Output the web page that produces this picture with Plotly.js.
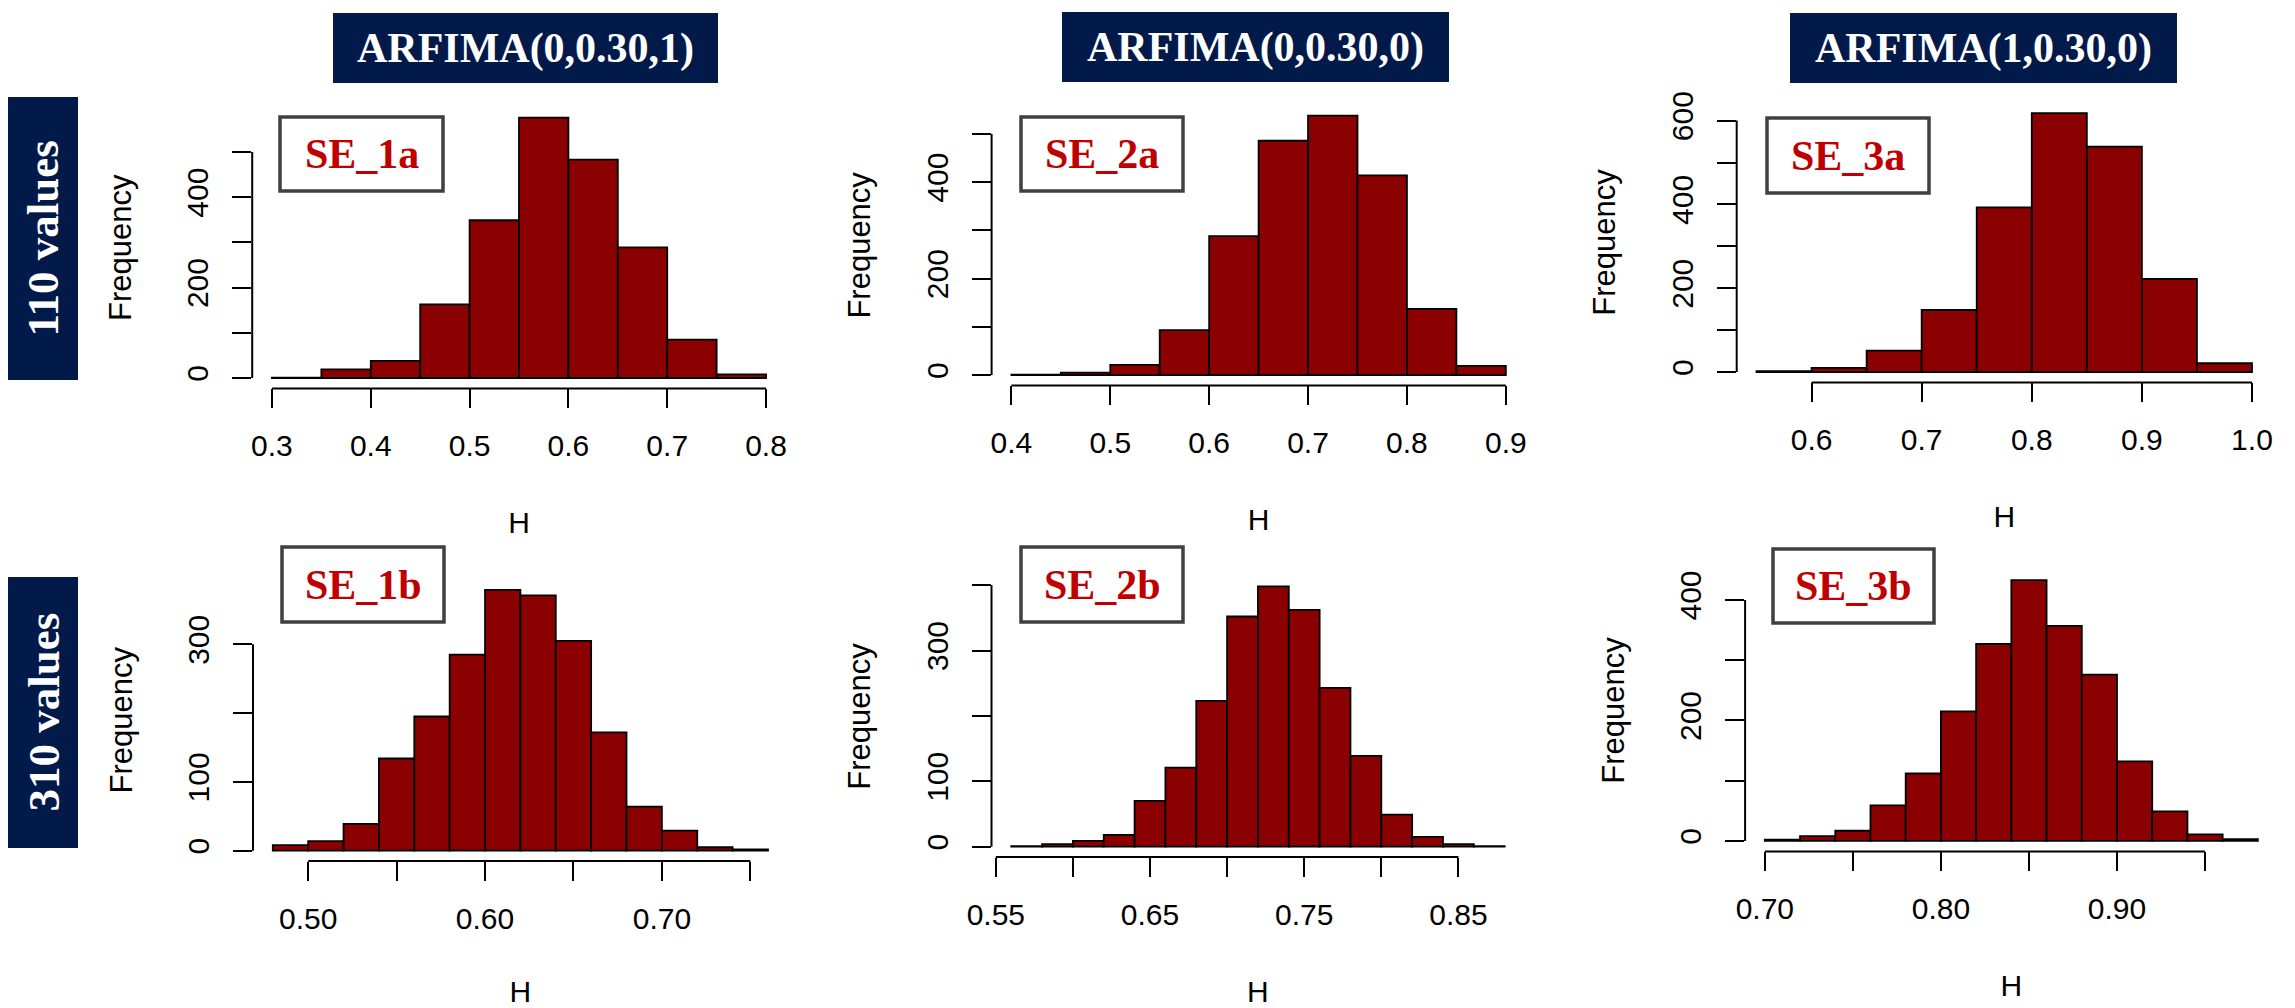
<!DOCTYPE html>
<html><head><meta charset="utf-8">
<script src="https://cdn.plot.ly/plotly-3.0.1.min.js"></script>
<style>html,body{margin:0;padding:0;background:#fff;} #chart{width:2295px;height:1008px;}</style>
</head><body><div id="chart"></div>
<script>
// ---------------- data ----------------
const modelTitles = ['ARFIMA(0,0.30,1)', 'ARFIMA(0,0.30,0)', 'ARFIMA(1,0.30,0)'];
const rowLabels = ['110 values', '310 values'];
const panelNames = ['SE_1a', 'SE_2a', 'SE_3a', 'SE_1b', 'SE_2b', 'SE_3b'];
const xTitle = 'H';
const yTitle = 'Frequency';

const breaks_1a = [0.30, 0.35, 0.40, 0.45, 0.50, 0.55, 0.60, 0.65, 0.70, 0.75, 0.80];
const counts_1a = [1, 19, 38, 163, 349, 576, 483, 289, 85, 8];
const breaks_2a = [0.40, 0.45, 0.50, 0.55, 0.60, 0.65, 0.70, 0.75, 0.80, 0.85, 0.90];
const counts_2a = [1, 5, 21, 93, 288, 486, 538, 414, 137, 19];
const breaks_3a = [0.55, 0.60, 0.65, 0.70, 0.75, 0.80, 0.85, 0.90, 0.95, 1.00];
const counts_3a = [2, 10, 51, 148, 393, 618, 538, 222, 21];
const breaks_1b = [0.48, 0.50, 0.52, 0.54, 0.56, 0.58, 0.60, 0.62, 0.64, 0.66, 0.68, 0.70, 0.72, 0.74, 0.76];
const counts_1b = [8, 14, 39, 134, 195, 285, 379, 371, 305, 172, 64, 29, 5, 2];
const breaks_2b = [0.56, 0.58, 0.60, 0.62, 0.64, 0.66, 0.68, 0.70, 0.72, 0.74, 0.76, 0.78, 0.80, 0.82, 0.84, 0.86, 0.88];
const counts_2b = [1, 4, 9, 18, 70, 121, 223, 352, 398, 362, 243, 139, 49, 15, 4, 1];
const breaks_3b = [0.70, 0.72, 0.74, 0.76, 0.78, 0.80, 0.82, 0.84, 0.86, 0.88, 0.90, 0.92, 0.94, 0.96, 0.98];
const counts_3b = [2, 8, 17, 59, 112, 215, 327, 433, 357, 276, 132, 49, 11, 3];

const xTicks_1a = [0.3, 0.4, 0.5, 0.6, 0.7, 0.8];
const xTickText_1a = ['0.3', '0.4', '0.5', '0.6', '0.7', '0.8'];
const yTicks_1a = [0, 100, 200, 300, 400, 500];
const yTickText_1a = ['0', '', '200', '', '400', ''];
const xTicks_2a = [0.4, 0.5, 0.6, 0.7, 0.8, 0.9];
const xTickText_2a = ['0.4', '0.5', '0.6', '0.7', '0.8', '0.9'];
const yTicks_2a = [0, 100, 200, 300, 400, 500];
const yTickText_2a = ['0', '', '200', '', '400', ''];
const xTicks_3a = [0.6, 0.7, 0.8, 0.9, 1.0];
const xTickText_3a = ['0.6', '0.7', '0.8', '0.9', '1.0'];
const yTicks_3a = [0, 100, 200, 300, 400, 500, 600];
const yTickText_3a = ['0', '', '200', '', '400', '', '600'];
const xTicks_1b = [0.50, 0.55, 0.60, 0.65, 0.70, 0.75];
const xTickText_1b = ['0.50', '', '0.60', '', '0.70', ''];
const yTicks_1b = [0, 100, 200, 300];
const yTickText_1b = ['0', '100', '', '300'];
const xTicks_2b = [0.55, 0.60, 0.65, 0.70, 0.75, 0.80, 0.85];
const xTickText_2b = ['0.55', '', '0.65', '', '0.75', '', '0.85'];
const yTicks_2b = [0, 100, 200, 300, 400];
const yTickText_2b = ['0', '100', '', '300', ''];
const xTicks_3b = [0.70, 0.75, 0.80, 0.85, 0.90, 0.95];
const xTickText_3b = ['0.70', '', '0.80', '', '0.90', ''];
const yTicks_3b = [0, 100, 200, 300, 400];
const yTickText_3b = ['0', '', '200', '', '400'];

// ---------------- layout constants (pixels) ----------------
const W = 2295, H = 1008;
const plotRegionPx = [ // left, right, top, bottom
  [252.2, 785.8, 107.2, 388.4],
  [991.6, 1525.6, 105.3, 385.4],
  [1736.7, 2271.8, 102.7, 382.4],
  [253.0, 787.8, 579.5, 861.1],
  [991.5, 1524.4, 576.0, 857.1],
  [1745.1, 2277.6, 569.7, 851.4]
];
const labelBoxPx = [[280, 443, 117, 191], [1021, 1183, 117, 191], [1767, 1929, 118, 193],
                    [282, 444, 547, 622], [1021, 1183, 547, 622], [1773, 1934, 549, 623]];
const titleBoxPx = [[333, 718, 13, 83], [1062, 1449, 12, 82], [1790, 2177, 13, 83]];
const rowBoxPx = [[8, 78, 97, 380], [8, 78, 577, 848]];

const NAVY = '#021a4a';
const BAR = '#8b0000';
const SANS = 'Liberation Sans, Arial, sans-serif';
const SERIF = 'Liberation Serif, Times New Roman, serif';

const panels = [
  {breaks: breaks_1a, counts: counts_1a, xt: xTicks_1a, xtt: xTickText_1a, yt: yTicks_1a, ytt: yTickText_1a},
  {breaks: breaks_2a, counts: counts_2a, xt: xTicks_2a, xtt: xTickText_2a, yt: yTicks_2a, ytt: yTickText_2a},
  {breaks: breaks_3a, counts: counts_3a, xt: xTicks_3a, xtt: xTickText_3a, yt: yTicks_3a, ytt: yTickText_3a},
  {breaks: breaks_1b, counts: counts_1b, xt: xTicks_1b, xtt: xTickText_1b, yt: yTicks_1b, ytt: yTickText_1b},
  {breaks: breaks_2b, counts: counts_2b, xt: xTicks_2b, xtt: xTickText_2b, yt: yTicks_2b, ytt: yTickText_2b},
  {breaks: breaks_3b, counts: counts_3b, xt: xTicks_3b, xtt: xTickText_3b, yt: yTicks_3b, ytt: yTickText_3b}
];

const px2x = p => p / W;
const px2y = p => 1 - p / H;

const traces = [];
const layout = {
  width: W, height: H,
  margin: {l: 0, r: 0, t: 0, b: 0},
  paper_bgcolor: '#ffffff', plot_bgcolor: 'rgba(0,0,0,0)',
  showlegend: false,
  bargap: 0,
  shapes: [], annotations: []
};

panels.forEach((p, i) => {
  const k = i + 1;
  const xid = k === 1 ? 'x' : 'x' + k;
  const yid = k === 1 ? 'y' : 'y' + k;
  const xa = k === 1 ? 'xaxis' : 'xaxis' + k;
  const ya = k === 1 ? 'yaxis' : 'yaxis' + k;
  const mids = p.breaks.slice(0, -1).map((b, j) => (b + p.breaks[j + 1]) / 2);
  const widths = p.breaks.slice(0, -1).map((b, j) => p.breaks[j + 1] - b);
  traces.push({
    type: 'bar', x: mids, y: p.counts, width: widths,
    xaxis: xid, yaxis: yid,
    marker: {color: BAR, line: {color: '#000000', width: 1.8}},
    hovertemplate: 'H=%{x}<br>Frequency=%{y}<extra></extra>'
  });
  // R-style ranges (4% padding)
  const b0 = p.breaks[0], bN = p.breaks[p.breaks.length - 1];
  const span = bN - b0;
  const xr = [b0 - 0.04 * span, bN + 0.04 * span];
  let [L, R, T, B] = plotRegionPx[i];
  if (R > W) { xr[1] = xr[0] + (W - L) * (xr[1] - xr[0]) / (R - L); R = W; }
  const maxC = Math.max(...p.counts);
  const yr = [-0.04 * maxC, 1.04 * maxC];
  const tickfont = {family: SANS, size: 30, color: '#000'};
  layout[xa] = {
    domain: [px2x(L), px2x(R)], range: xr, anchor: yid,
    showgrid: false, zeroline: false, showline: false,
    ticks: 'outside', ticklen: 19, tickwidth: 2, tickcolor: '#000',
    tickmode: 'array', tickvals: p.xt, ticktext: p.xtt, tickfont: tickfont,
    ticklabelstandoff: 12, ticklabeloverflow: 'allow',
    title: {text: xTitle, font: {family: SANS, size: 30, color: '#000'}, standoff: 50},
    fixedrange: true
  };
  layout[ya] = {
    domain: [px2y(B), px2y(T)], range: yr, anchor: xid,
    showgrid: false, zeroline: false, showline: false,
    ticks: 'outside', ticklen: 19, tickwidth: 2, tickcolor: '#000',
    tickmode: 'array', tickvals: p.yt, ticktext: p.ytt, tickfont: tickfont,
    tickangle: -90, ticklabelstandoff: 12, ticklabeloverflow: 'allow',
    title: {text: yTitle, font: {family: SANS, size: 31, color: '#000'}, standoff: 40},
    fixedrange: true
  };
  // R-style axis lines spanning the tick range only
  layout.shapes.push({type: 'line', xref: xid + ' domain', yref: yid,
    x0: 0, x1: 0, y0: p.yt[0], y1: p.yt[p.yt.length - 1], line: {color: '#000', width: 2}});
  layout.shapes.push({type: 'line', xref: xid, yref: yid + ' domain',
    x0: p.xt[0], x1: p.xt[p.xt.length - 1], y0: 0, y1: 0, line: {color: '#000', width: 2}});
  // SE label box
  const lb = labelBoxPx[i];
  layout.shapes.push({type: 'rect', xref: 'paper', yref: 'paper', layer: 'above',
    x0: px2x(lb[0]), x1: px2x(lb[1]), y0: px2y(lb[3]), y1: px2y(lb[2]),
    fillcolor: '#ffffff', line: {color: '#404040', width: 3.5}});
  layout.annotations.push({xref: 'paper', yref: 'paper', showarrow: false,
    x: px2x((lb[0] + lb[1]) / 2), y: px2y((lb[2] + lb[3]) / 2), xanchor: 'center', yanchor: 'middle',
    text: '<b>' + panelNames[i] + '</b>', font: {family: SERIF, size: 42, color: '#c00000'}});
});

titleBoxPx.forEach((b, j) => {
  layout.shapes.push({type: 'rect', xref: 'paper', yref: 'paper', layer: 'above',
    x0: px2x(b[0]), x1: px2x(b[1]), y0: px2y(b[3]), y1: px2y(b[2]),
    fillcolor: NAVY, line: {width: 0}});
  layout.annotations.push({xref: 'paper', yref: 'paper', showarrow: false,
    x: px2x((b[0] + b[1]) / 2), y: px2y((b[2] + b[3]) / 2), xanchor: 'center', yanchor: 'middle',
    text: '<b>' + modelTitles[j] + '</b>', font: {family: SERIF, size: 42, color: '#ffffff'}});
});
rowBoxPx.forEach((b, j) => {
  layout.shapes.push({type: 'rect', xref: 'paper', yref: 'paper', layer: 'above',
    x0: px2x(b[0]), x1: px2x(b[1]), y0: px2y(b[3]), y1: px2y(b[2]),
    fillcolor: NAVY, line: {width: 0}});
  layout.annotations.push({xref: 'paper', yref: 'paper', showarrow: false,
    x: px2x((b[0] + b[1]) / 2), y: px2y((b[2] + b[3]) / 2), xanchor: 'center', yanchor: 'middle',
    textangle: -90,
    text: '<b>' + rowLabels[j] + '</b>', font: {family: SERIF, size: 45, color: '#ffffff'}});
});

Plotly.newPlot('chart', traces, layout, {staticPlot: true, displayModeBar: false});
</script>
</body></html>
